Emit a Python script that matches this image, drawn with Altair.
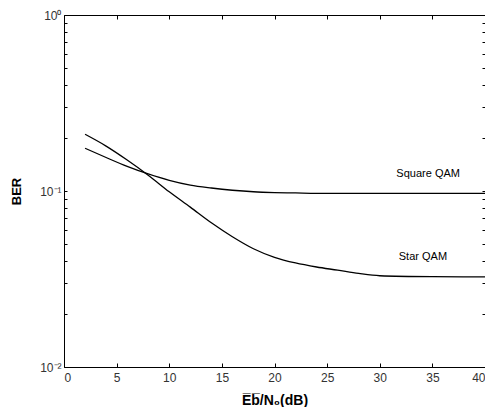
import altair as alt
import pandas as pd

x_vals = [2, 4, 6, 8, 10, 12, 14, 16, 18, 20, 22, 24, 26, 28, 30, 35, 40]
square_qam = [0.175, 0.155, 0.138, 0.125, 0.115, 0.108, 0.104, 0.101, 0.099, 0.098,
              0.0975, 0.097, 0.097, 0.097, 0.097, 0.097, 0.097]
star_qam = [0.21, 0.18, 0.15, 0.123, 0.099, 0.081, 0.066, 0.055, 0.047, 0.042,
            0.039, 0.037, 0.0355, 0.034, 0.033, 0.0326, 0.0325]

label_text = ["Square QAM", "Star QAM"]
label_x = [34.6, 34.1]
label_y = [0.125, 0.042]

x_ticks = [0, 5, 10, 15, 20, 25, 30, 35, 40]
y_ticks = [m * 10.0 ** e for e in (-2, -1) for m in range(1, 10)] + [1.0]

rows = []
for xv, s, t in zip(x_vals, square_qam, star_qam):
    rows.append({"x": xv, "ber": s, "series": "Square QAM"})
    rows.append({"x": xv, "ber": t, "series": "Star QAM"})
df = pd.DataFrame(rows)
lab = pd.DataFrame({"x": label_x, "ber": label_y, "text": label_text})

FONT = "Liberation Sans"
label_expr = ("datum.value == 1 ? '10\u2070' : datum.value == 0.1 ? '10\u207b\u00b9' : "
              "datum.value == 0.01 ? '10\u207b\u00b2' : ''")

xscale = alt.Scale(domain=[0, 40], nice=False)
yscale = alt.Scale(type="log", domain=[0.01, 1], nice=False)

x_axis = alt.Axis(orient="bottom", values=x_ticks, title="E\u0305b\u0305/N\u2080(dB)", grid=False,
                  labelFont=FONT, labelFontSize=12, labelColor="#333",
                  titleFont=FONT, titleFontSize=14, titleFontWeight="bold",
                  titleColor="black", domainColor="black", tickColor="black",
                  tickSize={"expr": "-4"}, labelPadding=9, titlePadding=10)
y_axis = alt.Axis(orient="left", values=y_ticks, labelExpr=label_expr, title="BER", grid=False,
                  labelFont=FONT, labelFontSize=12, labelColor="#333",
                  titleFont=FONT, titleFontSize=13, titleFontWeight="bold",
                  titleColor="black", domainColor="black", tickColor="black",
                  tickSize={"expr": "-3"}, labelPadding=6, titlePadding=16)

lines = alt.Chart(df).mark_line(color="black", strokeWidth=1.3, interpolate="monotone").encode(
    x=alt.X("x:Q", scale=xscale, axis=x_axis),
    y=alt.Y("ber:Q", scale=yscale, axis=y_axis),
    detail="series:N",
)

top_right = alt.Chart(df).mark_line(opacity=0).encode(
    x=alt.X("x:Q", scale=xscale,
            axis=alt.Axis(orient="top", values=x_ticks, labels=False,
                          title=None, domainColor="black", tickColor="black",
                          tickSize={"expr": "-4"})),
    y=alt.Y("ber:Q", scale=yscale,
            axis=alt.Axis(orient="right", values=y_ticks, labels=False,
                          title=None, domainColor="black", tickColor="black",
                          tickSize={"expr": "-3"})),
    detail="series:N",
)

texts = alt.Chart(lab).mark_text(font=FONT, fontSize=11, color="black").encode(
    x=alt.X("x:Q", scale=xscale, axis=None),
    y=alt.Y("ber:Q", scale=yscale, axis=None),
    text="text:N",
)

chart = alt.layer(lines, top_right, texts).resolve_axis(
    x="independent", y="independent"
).properties(
    width=421, height=352,
    autosize=alt.AutoSizeParams(type="none"),
    padding={"left": 56, "top": 7, "right": 0, "bottom": 40},
).configure_view(stroke=None).configure(background="white")

chart.save("out.html", embed_options={"renderer": "svg", "actions": False})
